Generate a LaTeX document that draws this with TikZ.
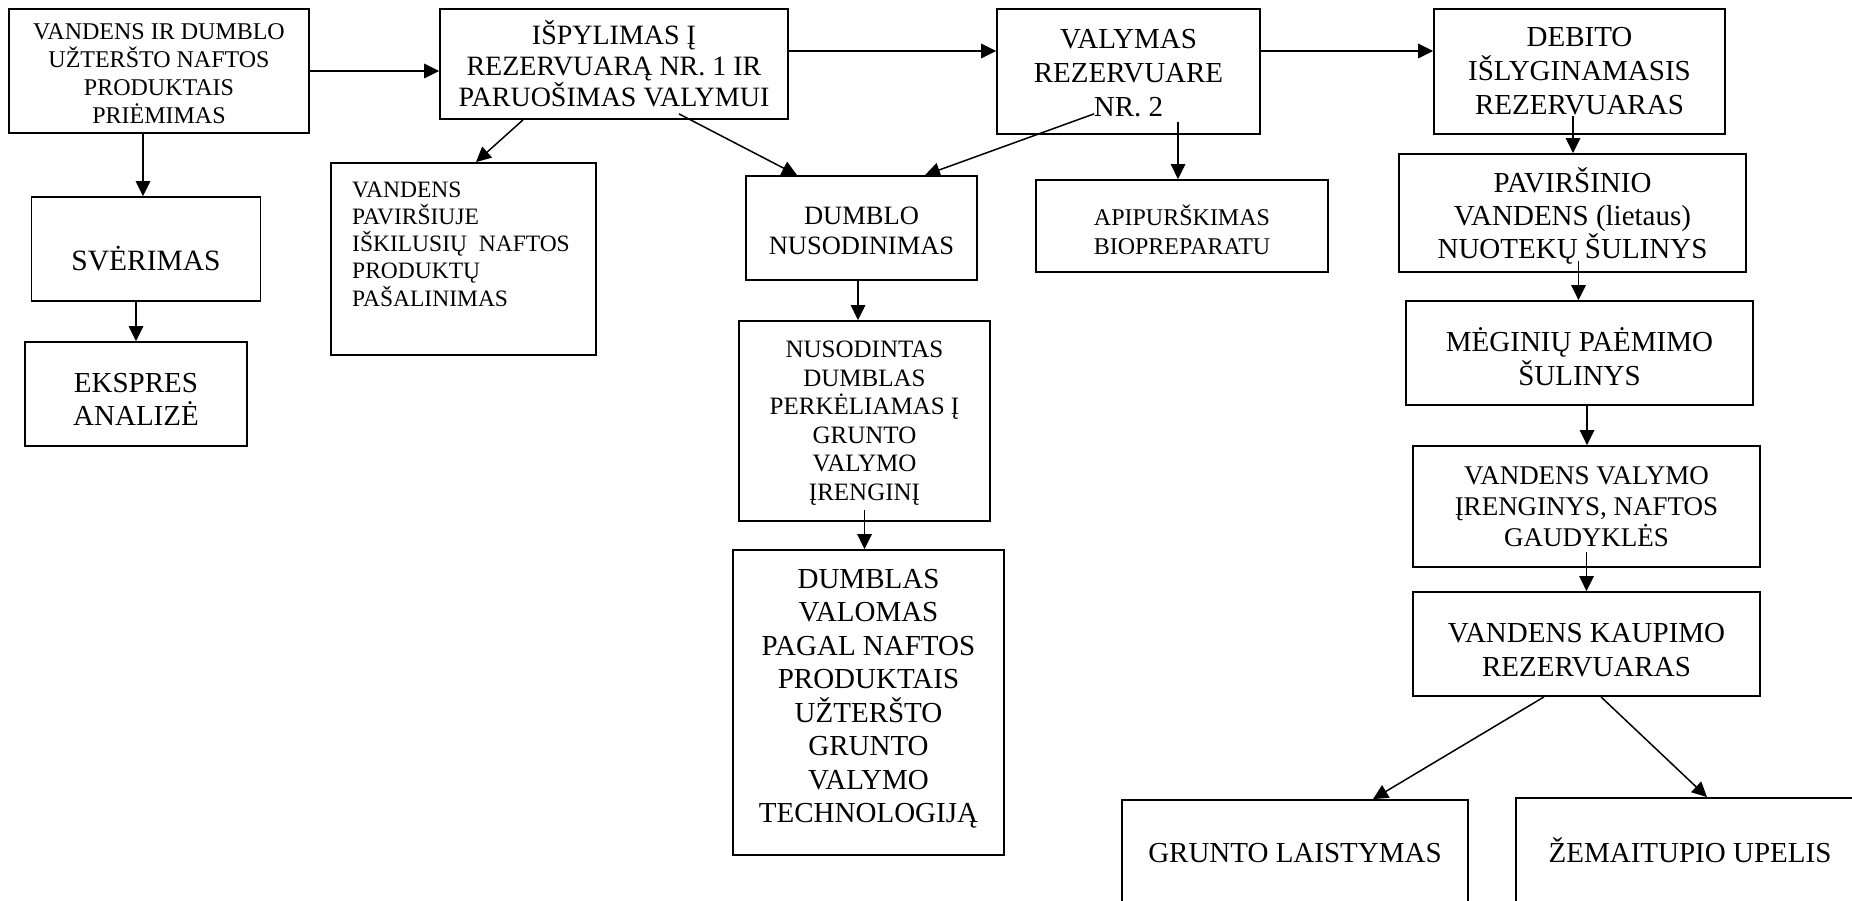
\documentclass[tikz,border=0pt]{standalone}
\usepackage{fontspec}
\setmainfont{Liberation Serif}
\usetikzlibrary{arrows.meta,calc}
\begin{document}
\begin{tikzpicture}[x=1pt,y=-1pt,
 box/.style={draw, line width=1.8pt, inner sep=0pt},
 lbl/.style={align=center, inner sep=0pt},
 arr/.style={line width=1.5pt, -{Triangle[length=15pt,width=14.5pt]}},
]
\useasboundingbox (0,0) rectangle (1852,901);
\clip (0,0) rectangle (1852,901);
\fill[white] (0,0) rectangle (1852,901);

% boxes
\node[box, minimum width=300pt, minimum height=124pt] (b1) at (159,71) {};
\node[box, minimum width=348pt, minimum height=110pt] (b2) at (614,64) {};
\node[box, minimum width=263pt, minimum height=125pt] (b3) at (1128.5,71.5) {};
\node[box, minimum width=291pt, minimum height=125pt] (b4) at (1579.5,71.5) {};
\node[box, minimum width=229pt, minimum height=104pt] (sver) at (146,249) {};
\node[box, minimum width=222pt, minimum height=104pt] (eks) at (136,394) {};
\node[box, minimum width=265pt, minimum height=192pt] (pav) at (463.5,259) {};
\node[box, minimum width=231pt, minimum height=104pt] (nus) at (861.5,228) {};
\node[box, minimum width=292pt, minimum height=92pt] (api) at (1182,226) {};
\node[box, minimum width=347pt, minimum height=118pt] (psul) at (1572.5,213) {};
\node[box, minimum width=251pt, minimum height=200pt] (nd) at (864.5,421) {};
\node[box, minimum width=271pt, minimum height=305pt] (dv) at (868.5,702.5) {};
\node[box, minimum width=347pt, minimum height=104pt] (meg) at (1579.5,353) {};
\node[box, minimum width=347pt, minimum height=121pt] (vv) at (1586.5,506.5) {};
\node[box, minimum width=347pt, minimum height=104pt] (vk) at (1586.5,644) {};
\node[box, minimum width=346pt, minimum height=110pt] (gl) at (1295,855) {};
\node[box, minimum width=348pt, minimum height=112pt] (zu) at (1690,854) {};

% texts
\node[lbl, font=\fontsize{24pt}{28pt}\selectfont] (t1) at ($(b1)+(0,3)$) {VANDENS IR DUMBLO\\UŽTERŠTO NAFTOS\\PRODUKTAIS\\PRIĖMIMAS};
\node[lbl, font=\fontsize{28pt}{31pt}\selectfont] (t2) at (b2) {IŠPYLIMAS Į\\REZERVUARĄ NR. 1 IR\\PARUOŠIMAS VALYMUI};
\node[lbl, font=\fontsize{29pt}{34pt}\selectfont] (t3) at ($(b3)+(0,2)$) {VALYMAS\\REZERVUARE\\NR. 2};
\node[lbl, font=\fontsize{29pt}{34pt}\selectfont] (t4) at (b4) {DEBITO\\IŠLYGINAMASIS\\REZERVUARAS};
\node[lbl, font=\fontsize{29.5pt}{34pt}\selectfont] (tsver) at ($(sver)+(0,10)$) {SVĖRIMAS};
\node[lbl, font=\fontsize{29pt}{33pt}\selectfont] (teks) at ($(eks)+(0,5)$) {EKSPRES\\ANALIZĖ};
\node[lbl, align=left, anchor=west, font=\fontsize{23.5pt}{27.3pt}\selectfont] (tpav) at (352,244) {VANDENS\\PAVIRŠIUJE\\IŠKILUSIŲ\ \ NAFTOS\\PRODUKTŲ\\PAŠALINIMAS};
\node[lbl, font=\fontsize{26.5pt}{30pt}\selectfont] (tnus) at ($(nus)+(0,3)$) {DUMBLO\\NUSODINIMAS};
\node[lbl, font=\fontsize{24pt}{28.5pt}\selectfont] (tapi) at ($(api)+(0,4)$) {APIPURŠKIMAS\\BIOPREPARATU};
\node[lbl, font=\fontsize{29pt}{33pt}\selectfont] (tpsul) at ($(psul)+(0,3)$) {PAVIRŠINIO\\VANDENS (lietaus)\\NUOTEKŲ ŠULINYS};
\node[lbl, font=\fontsize{25pt}{28.5pt}\selectfont] (tnd) at ($(nd)+(0,2)$) {NUSODINTAS\\DUMBLAS\\PERKĖLIAMAS Į\\GRUNTO\\VALYMO\\ĮRENGINĮ};
\node[lbl, font=\fontsize{29pt}{33.5pt}\selectfont] (tdv) at ($(dv)+(0,-4)$) {DUMBLAS\\VALOMAS\\PAGAL NAFTOS\\PRODUKTAIS\\UŽTERŠTO\\GRUNTO\\VALYMO\\TECHNOLOGIJĄ};
\node[lbl, font=\fontsize{29pt}{34pt}\selectfont] (tmeg) at ($(meg)+(0,4)$) {MĖGINIŲ PAĖMIMO\\ŠULINYS};
\node[lbl, font=\fontsize{27pt}{31pt}\selectfont] (tvv) at (vv) {VANDENS VALYMO\\ĮRENGINYS, NAFTOS\\GAUDYKLĖS};
\node[lbl, font=\fontsize{29pt}{34pt}\selectfont] (tvk) at ($(vk)+(0,6)$) {VANDENS KAUPIMO\\REZERVUARAS};
\node[lbl, font=\fontsize{29pt}{34pt}\selectfont] (tgl) at (1295,853) {GRUNTO LAISTYMAS};
\node[lbl, font=\fontsize{29pt}{34pt}\selectfont] (tzu) at (1690,850) {ŽEMAITUPIO UPELIS};

% connectors
\coordinate (r1) at (0,51);
\draw[arr] (b1.east) -- (b1.east -| b2.west);
\draw[arr] (b2.east |- r1) -- (b3.west |- r1);
\draw[arr] (b3.east |- r1) -- (b4.west |- r1);
\draw[arr] ($(b1.south)+(-16,0)$) coordinate (c1) -- (c1 |- sver.north);
\draw[arr] ($(sver.south)+(-10,0)$) coordinate (c2) -- (c2 |- eks.north);
\draw[arr] ($(b2.south)+(-91,0)$) -- ($(pav.north)+(12.5,0)$);
\draw[arr] ($(b2.south)+(65,-6)$) -- ($(nus.north)+(-64.5,0)$);
\draw[arr] ($(b3.south)+(-34.5,-21)$) -- ($(nus.north)+(63.5,0)$);
\draw[arr] ($(b3.south)+(49.5,-13)$) coordinate (c3) -- (c3 |- api.north);
\draw[arr] ($(b4.south)+(-6.5,-19)$) coordinate (c4) -- (c4 |- psul.north);
\draw[arr] ($(psul.south)+(6,-12)$) coordinate (c5) -- (c5 |- meg.north);
\draw[arr] ($(meg.south)+(7.5,0)$) coordinate (c6) -- (c6 |- vv.north);
\draw[arr] ($(vv.south)+(0,-16)$) coordinate (c7) -- (c7 |- vk.north);
\draw[arr] ($(vk.south)+(-42.5,0)$) -- ($(gl.north)+(78,0)$);
\draw[arr] ($(vk.south)+(14.5,0)$) -- ($(zu.north)+(17,0)$);
\draw[arr] ($(nus.south)+(-3.5,0)$) coordinate (c8) -- (c8 |- nd.north);
\draw[arr] ($(nd.south)+(0,-12)$) coordinate (c9) -- (c9 |- dv.north);
\end{tikzpicture}
\end{document}
